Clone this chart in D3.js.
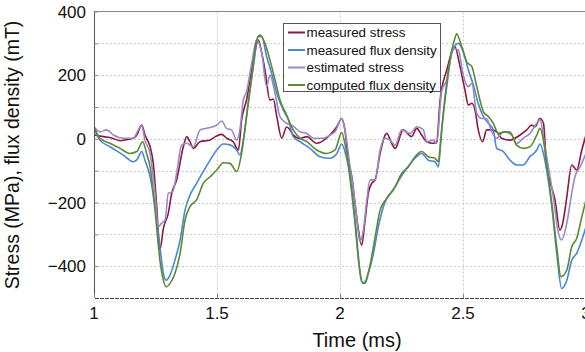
<!DOCTYPE html>
<html>
<head>
<meta charset="utf-8">
<script src="https://cdn.jsdelivr.net/npm/d3@7"></script>
<style>
  body { margin: 0; background: #fff; }
  svg { display: block; font-family: "Liberation Sans", Arial, sans-serif; }
</style>
</head>
<body>
<div id="chart"></div>
<script>
// series, [time (ms), value]
const measuredStress = [[1.0,12],[1.038,7],[1.075,2],[1.106,-6],[1.135,-2],[1.16,2],[1.174,12],[1.194,43],[1.207,12],[1.228,-25],[1.241,-77],[1.255,-213],[1.268,-349],[1.282,-281],[1.302,-234],[1.316,-171],[1.336,-129],[1.363,-25],[1.377,7],[1.39,-9],[1.404,-30],[1.431,-9],[1.472,-4],[1.493,7],[1.519,14],[1.539,2],[1.566,-9],[1.587,-35],[1.6,59],[1.62,122],[1.648,248],[1.668,310],[1.682,269],[1.695,216],[1.715,122],[1.729,125],[1.743,70],[1.763,2],[1.783,37],[1.797,28],[1.81,12],[1.837,1],[1.865,7],[1.905,-14],[1.959,12],[1.987,38],[2.007,64],[2.02,28],[2.034,-67],[2.048,-119],[2.061,-203],[2.075,-286],[2.088,-334],[2.102,-255],[2.115,-171],[2.129,-140],[2.143,-129],[2.163,-46],[2.19,17],[2.21,-14],[2.224,-30],[2.257,28],[2.291,7],[2.312,33],[2.332,12],[2.352,-9],[2.379,-14],[2.393,-10],[2.407,122],[2.434,216],[2.467,289],[2.488,227],[2.508,153],[2.522,106],[2.536,112],[2.549,90],[2.562,28],[2.58,-9],[2.596,28],[2.617,28],[2.637,22],[2.657,2],[2.691,-4],[2.732,12],[2.759,28],[2.779,43],[2.793,38],[2.813,64],[2.827,49],[2.84,-88],[2.854,-135],[2.874,-192],[2.894,-287],[2.908,-255],[2.922,-182],[2.942,-82],[2.962,-98],[2.983,-35],[3.0,12]];

const measuredFlux = [[1.0,33],[1.024,-4],[1.065,-25],[1.119,-51],[1.16,-72],[1.174,-66],[1.194,-40],[1.207,-67],[1.228,-119],[1.248,-213],[1.268,-339],[1.282,-423],[1.293,-444],[1.309,-428],[1.329,-381],[1.35,-318],[1.37,-224],[1.39,-177],[1.417,-140],[1.444,-103],[1.472,-67],[1.499,-35],[1.526,-16],[1.553,-19],[1.58,-35],[1.593,-51],[1.607,-4],[1.627,112],[1.648,227],[1.668,321],[1.682,321],[1.702,258],[1.722,206],[1.743,143],[1.77,90],[1.79,60],[1.81,7],[1.837,-9],[1.878,-30],[1.919,-56],[1.959,-61],[1.987,-46],[2.007,-16],[2.02,-40],[2.034,-88],[2.048,-171],[2.061,-265],[2.075,-381],[2.088,-449],[2.102,-454],[2.115,-423],[2.136,-360],[2.156,-276],[2.183,-198],[2.217,-161],[2.244,-124],[2.271,-93],[2.305,-61],[2.332,-46],[2.359,-67],[2.386,-72],[2.4,-88],[2.413,28],[2.434,164],[2.454,269],[2.481,300],[2.501,274],[2.522,216],[2.542,169],[2.562,111],[2.583,70],[2.603,49],[2.623,28],[2.637,-30],[2.664,-40],[2.691,-67],[2.718,-82],[2.745,-82],[2.772,-56],[2.8,-35],[2.813,-16],[2.827,-46],[2.84,-98],[2.861,-213],[2.881,-360],[2.901,-470],[2.922,-444],[2.942,-381],[2.962,-360],[2.983,-318],[3.0,-276]];

const estimatedStress = [[1.0,38],[1.024,22],[1.052,28],[1.079,12],[1.119,2],[1.16,2],[1.18,28],[1.194,41],[1.207,-4],[1.228,-46],[1.248,-171],[1.261,-276],[1.275,-265],[1.289,-255],[1.302,-171],[1.32,-166],[1.336,-108],[1.356,-20],[1.377,-14],[1.404,-25],[1.431,28],[1.458,33],[1.499,43],[1.519,56],[1.539,33],[1.559,28],[1.58,-4],[1.593,28],[1.607,122],[1.62,148],[1.641,237],[1.661,310],[1.682,269],[1.702,164],[1.715,200],[1.736,143],[1.756,70],[1.783,49],[1.81,40],[1.837,22],[1.865,17],[1.892,2],[1.932,2],[1.959,12],[1.98,22],[2.007,64],[2.02,28],[2.041,-88],[2.061,-198],[2.075,-297],[2.081,-323],[2.095,-286],[2.109,-192],[2.122,-129],[2.143,-129],[2.163,-35],[2.183,2],[2.204,-4],[2.224,-20],[2.251,28],[2.285,17],[2.312,38],[2.339,28],[2.352,-9],[2.379,-4],[2.393,-14],[2.413,148],[2.434,185],[2.461,284],[2.481,279],[2.501,200],[2.522,164],[2.536,174],[2.556,80],[2.576,64],[2.596,64],[2.617,22],[2.637,2],[2.664,22],[2.691,22],[2.718,-14],[2.745,2],[2.772,17],[2.8,49],[2.813,59],[2.833,-25],[2.847,-88],[2.867,-182],[2.888,-297],[2.901,-318],[2.922,-265],[2.942,-171],[2.955,-119],[2.976,-88],[3.0,-46]];

const computedFlux = [[1.0,38],[1.024,2],[1.065,-14],[1.106,-30],[1.146,-46],[1.174,-40],[1.198,-9],[1.214,-46],[1.228,-88],[1.248,-224],[1.268,-381],[1.282,-444],[1.293,-465],[1.309,-454],[1.329,-423],[1.35,-360],[1.37,-255],[1.39,-213],[1.417,-192],[1.444,-140],[1.472,-119],[1.499,-98],[1.526,-75],[1.553,-77],[1.58,-103],[1.6,-46],[1.62,70],[1.641,195],[1.661,310],[1.675,326],[1.695,300],[1.715,248],[1.736,185],[1.756,122],[1.783,75],[1.81,28],[1.837,2],[1.865,-9],[1.905,-35],[1.946,-46],[1.98,-35],[2.007,20],[2.02,-15],[2.034,-77],[2.048,-161],[2.065,-286],[2.079,-402],[2.093,-454],[2.106,-444],[2.122,-397],[2.143,-307],[2.163,-224],[2.19,-187],[2.224,-150],[2.251,-108],[2.278,-88],[2.305,-56],[2.332,-40],[2.359,-56],[2.386,-61],[2.4,-72],[2.407,-25],[2.427,132],[2.447,248],[2.467,316],[2.474,330],[2.495,289],[2.515,242],[2.536,227],[2.556,164],[2.583,85],[2.603,70],[2.623,49],[2.644,17],[2.671,22],[2.698,12],[2.718,-20],[2.745,-30],[2.772,-25],[2.8,12],[2.813,33],[2.827,-4],[2.84,-77],[2.861,-203],[2.881,-339],[2.898,-433],[2.922,-412],[2.942,-339],[2.962,-313],[2.983,-245],[3.0,-192]];

const seriesNames = ["measured stress", "measured flux density", "estimated stress", "computed flux density"];
const seriesColors = ["#8b1a3c", "#4a86d6", "#9b87cc", "#5b8a32"];
const seriesData = [measuredStress, measuredFlux, estimatedStress, computedFlux];

const xTicks = [1, 1.5, 2, 2.5, 3];
const yTicks = [-400, -200, 0, 200, 400];
const yGrid = [-400, -300, -200, -100, 0, 100, 200, 300];

const width = 585, height = 352;
const margin = { left: 94, right: -1, top: 11.5, bottom: 54 };

const svg = d3.select("#chart").append("svg")
  .attr("width", width)
  .attr("height", height);

const x = d3.scaleLinear([1, 3], [margin.left, width - margin.right]);
const y = d3.scaleLinear([-500, 400], [height - margin.bottom, margin.top]);

svg.append("defs").append("clipPath").attr("id", "plot")
  .append("rect")
  .attr("x", x(1)).attr("y", y(400))
  .attr("width", x(3) - x(1)).attr("height", y(-500) - y(400));

// grid
svg.append("g").selectAll("line")
  .data(yGrid)
  .join("line")
  .attr("x1", x(1)).attr("x2", x(3))
  .attr("y1", d => Math.round(y(d)) + 0.5).attr("y2", d => Math.round(y(d)) + 0.5)
  .attr("stroke", "#c9cad3").attr("stroke-dasharray", "2,2");

svg.append("g").selectAll("line")
  .data([1.5, 2, 2.5])
  .join("line")
  .attr("x1", d => Math.round(x(d)) + 0.5).attr("x2", d => Math.round(x(d)) + 0.5)
  .attr("y1", y(400)).attr("y2", y(-500))
  .attr("stroke", "#c9cad3").attr("stroke-dasharray", "2,2");

// frame
svg.append("line")
  .attr("x1", x(1)).attr("x2", x(3)).attr("y1", 11.5).attr("y2", 11.5)
  .attr("stroke", "#8a8a8a");

// lines
const line = d3.line()
  .x(d => x(d[0]))
  .y(d => y(d[1]))
  .curve(d3.curveMonotoneX);

svg.append("g").attr("clip-path", "url(#plot)")
  .selectAll("path")
  .data(seriesData)
  .join("path")
  .attr("d", line)
  .attr("fill", "none")
  .attr("stroke", (d, i) => seriesColors[i])
  .attr("stroke-width", 1.6)
  .attr("stroke-linejoin", "round");

// axes
const yAxis = svg.append("g")
  .attr("transform", `translate(${x(1)},0)`)
  .call(d3.axisLeft(y).tickValues(yGrid.concat([400])).tickSize(-4).tickFormat(""));
yAxis.select(".domain").attr("stroke", "#555").attr("d", `M0.5,${y(400)}V${y(-500)}`);
yAxis.selectAll(".tick line").attr("stroke", "#888");

svg.append("g").selectAll("text")
  .data(yTicks)
  .join("text")
  .attr("x", 86)
  .attr("y", d => y(d))
  .attr("dy", "0.36em")
  .attr("text-anchor", "end")
  .attr("font-size", 17)
  .attr("fill", "#111")
  .text(d => d < 0 ? "\u2212" + Math.abs(d) : d);

const xAxis = svg.append("g")
  .attr("transform", `translate(0,${y(-500)})`)
  .call(d3.axisBottom(x).tickValues(xTicks).tickSize(-4).tickFormat(""));
xAxis.select(".domain").attr("stroke", "#444").attr("stroke-dasharray", "4,1");
xAxis.selectAll(".tick line").attr("stroke", "#888");

svg.append("g").selectAll("text")
  .data(xTicks)
  .join("text")
  .attr("x", d => x(d))
  .attr("y", 319)
  .attr("text-anchor", "middle")
  .attr("font-size", 17)
  .attr("fill", "#111")
  .text(d => d);

svg.append("text")
  .attr("x", 357).attr("y", 347)
  .attr("text-anchor", "middle")
  .attr("font-size", 20)
  .attr("fill", "#111")
  .text("Time (ms)");

svg.append("text")
  .attr("transform", "translate(19,155) rotate(-90)")
  .attr("text-anchor", "middle")
  .attr("font-size", 19.5)
  .attr("fill", "#111")
  .text("Stress (MPa), flux density (mT)");

// legend
const lg = svg.append("g").attr("transform", "translate(283.5,23.5)");
lg.append("rect")
  .attr("width", 157).attr("height", 68)
  .attr("fill", "#fff").attr("stroke", "#555");
const item = lg.selectAll("g")
  .data(seriesNames)
  .join("g")
  .attr("transform", (d, i) => `translate(0,${9 + i * 17.5})`);
item.append("line")
  .attr("x1", 4.5).attr("x2", 21.5)
  .attr("stroke", (d, i) => seriesColors[i])
  .attr("stroke-width", 2);
item.append("text")
  .attr("x", 23).attr("dy", "0.35em")
  .attr("font-size", 13.4)
  .attr("fill", "#111")
  .text(d => d);
</script>
</body>
</html>
